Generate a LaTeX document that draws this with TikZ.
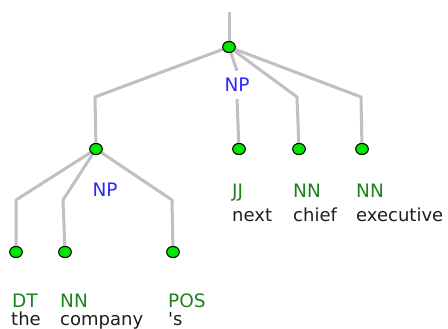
\documentclass[tikz,border=0pt]{standalone}
\usepackage{fontspec}
\setmainfont{DejaVu Sans}
\newfontfamily\wordfont{DejaVu Sans}
\usetikzlibrary{shapes.geometric}
\definecolor{edgegray}{RGB}{192,192,192}
\definecolor{dotgreen}{RGB}{0,230,0}
\definecolor{taggreen}{RGB}{30,130,30}
\definecolor{catblue}{RGB}{40,40,255}
\definecolor{wordblack}{RGB}{30,30,30}
\begin{document}
\begin{tikzpicture}[x=1pt,y=-1pt,
  dot/.style={ellipse,draw=black,line width=0.9pt,fill=dotgreen,minimum width=12.5pt,minimum height=11pt,inner sep=0pt},
  edge/.style={draw=edgegray,line width=3pt,line join=round},
  tag/.style={anchor=base west,inner sep=0pt,text=taggreen,font=\fontsize{18.5}{18}\selectfont},
  word/.style={anchor=base west,inner sep=0pt,text=wordblack,font=\wordfont\fontsize{18}{18}\selectfont},
  cat/.style={inner sep=0pt,text=catblue,font=\fontsize{18.5}{18}\selectfont}]
\useasboundingbox[fill=white] (0,0) rectangle (448,329);
% nodes
\coordinate (top) at (229,12);
\node[dot] (root) at (229,47) {};
\node[dot] (np1) at (96,149) {};
\node[cat,minimum height=28pt] (nplab) at (237,85) {NP};
\node[dot] (jj) at (239,149) {};
\node[dot] (nn1) at (299,149) {};
\node[dot] (nn2) at (362,149) {};
\node[dot] (dt) at (16,252) {};
\node[dot] (nn3) at (65,252) {};
\node[dot] (pos) at (173,252) {};
\node[cat] (nplab2) at (105,190) {NP};
% edges
\draw[edge] (top) -- (root);
\draw[edge] (root) -- (95,97) -- (np1);
\draw[edge] (root) -- (nplab.north);
\draw[edge] (nplab.south) -- (jj);
\draw[edge] (root) -- (297,97) -- (nn1);
\draw[edge] (root) -- (361,97) -- (nn2);
\draw[edge] (np1) -- (16,200) -- (dt);
\draw[edge] (np1) -- (63,200) -- (nn3);
\draw[edge] (np1) -- (172,200) -- (pos);
% redraw dots above edges
\foreach \n in {root,np1,jj,nn1,nn2,dt,nn3,pos} {\node[dot] at (\n) {};}
% labels
\node[tag] (t1) at (232,197) {JJ};
\node[word] (w1) at (232,222) {next};
\node[tag] (t2) at (293,197) {NN};
\node[word] (w2) at (293,222) {chief};
\node[tag] (t3) at (356,197) {NN};
\node[word] (w3) at (356,222) {executive};
\node[tag] (t4) at (12,307) {DT};
\node[word] (w4) at (11,325) {the};
\node[tag] (t5) at (60,307) {NN};
\node[word] (w5) at (60,325) {company};
\node[tag] (t6) at (168,307) {POS};
\node[word] (w6) at (168,325) {'s};
\end{tikzpicture}
\end{document}
